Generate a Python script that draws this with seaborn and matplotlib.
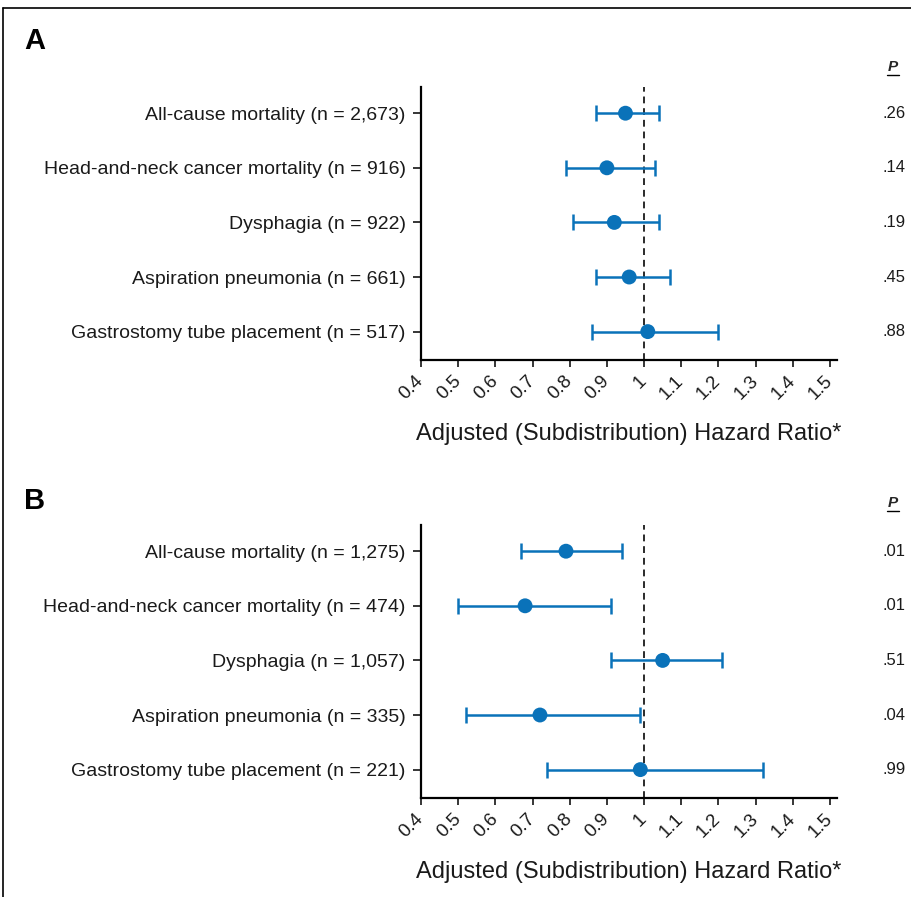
import numpy as np
import pandas as pd
import seaborn as sns
import matplotlib.pyplot as plt
import matplotlib.transforms as mtransforms
from matplotlib.lines import Line2D

sns.set_theme(style="white")
plt.rcParams['font.family'] = ['Liberation Sans', 'DejaVu Sans']

# outcomes, same order in both panels
outcomes = ["All-cause mortality", "Head-and-neck cancer mortality", "Dysphagia",
            "Aspiration pneumonia", "Gastrostomy tube placement"]

# panel A
n_a = ["2,673", "916", "922", "661", "517"]
hr_a = [0.95, 0.90, 0.92, 0.96, 1.01]
lo_a = [0.87, 0.79, 0.81, 0.87, 0.86]
hi_a = [1.04, 1.03, 1.04, 1.07, 1.20]
p_a = [".26", ".14", ".19", ".45", ".88"]

# panel B
n_b = ["1,275", "474", "1,057", "335", "221"]
hr_b = [0.79, 0.68, 1.05, 0.72, 0.99]
lo_b = [0.67, 0.50, 0.91, 0.52, 0.74]
hi_b = [0.94, 0.91, 1.21, 0.99, 1.32]
p_b = [".01", ".01", ".51", ".04", ".99"]

x_ticks = [0.4, 0.5, 0.6, 0.7, 0.8, 0.9, 1, 1.1, 1.2, 1.3, 1.4, 1.5]
x_tick_labels = ["0.4", "0.5", "0.6", "0.7", "0.8", "0.9", "1", "1.1", "1.2", "1.3", "1.4", "1.5"]
x_title = "Adjusted (Subdistribution) Hazard Ratio*"

blue = "#0a72b9"
W, H = 912, 897

fig = plt.figure(figsize=(W / 100, H / 100), dpi=100)


def panel(rect, letter, n, hr, lo, hi, pvals, letter_y, header_y):
    df = pd.DataFrame({
        "label": [f"{o} (n = {k})" for o, k in zip(outcomes, n)],
        "hr": hr, "lo": lo, "hi": hi, "pos": np.arange(len(hr)),
    })
    ax = fig.add_axes(rect)
    ax.axvline(1, color="#2a2a2a", lw=1.4, ls=(0, (3.5, 2.5)), zorder=1)
    ax.errorbar(df["hr"], df["pos"],
                xerr=[df["hr"] - df["lo"], df["hi"] - df["hr"]],
                fmt="none", ecolor=blue, elinewidth=1.8, capsize=5.5,
                capthick=1.8, zorder=2)
    sns.scatterplot(data=df, x="hr", y="pos", color=blue, s=115,
                    edgecolor="none", ax=ax, zorder=3, legend=False)
    ax.set_xlim(0.4, 1.519)
    ax.set_ylim(4.52, -0.48)
    ax.set_yticks(df["pos"])
    ax.set_yticklabels(df["label"], fontsize=14, color="#1a1a1a")
    ax.set_xticks(x_ticks)
    ax.set_xticklabels(x_tick_labels, rotation=45, ha="right", va="center",
                       rotation_mode="anchor",
                       family=["Liberation Sans Narrow", "Liberation Sans"],
                       fontsize=13.5, color="#1a1a1a")
    shift = mtransforms.ScaledTranslation(4 / 100, 0, fig.dpi_scale_trans)
    for t in ax.get_xticklabels():
        t.set_transform(t.get_transform() + shift)
    ax.set_xlabel(x_title, family=["Liberation Sans Narrow", "Liberation Sans"],
                  fontsize=17, color="#1a1a1a", labelpad=15)
    ax.set_ylabel("")
    for s in ["top", "right"]:
        ax.spines[s].set_visible(False)
    for s in ["left", "bottom"]:
        ax.spines[s].set_color("black")
        ax.spines[s].set_linewidth(1.6)
    ax.tick_params(axis="y", which="both", left=True, length=6, width=1.1,
                   color="black", pad=5)
    ax.tick_params(axis="x", which="both", bottom=True, length=5, width=1.1,
                   color="black", pad=8)
    ptrans = mtransforms.blended_transform_factory(fig.transFigure, ax.transData)
    for i, p in enumerate(pvals):
        ax.text(906 / W, i, p, transform=ptrans, ha="right", va="center",
                fontsize=12, color="#1a1a1a")
    fig.text(893 / W, 1 - header_y / H, "P", ha="center", va="center",
             fontsize=11, fontweight="bold", fontstyle="italic")
    fig.add_artist(Line2D([887 / W, 899 / W], [1 - (header_y + 8) / H] * 2,
                          transform=fig.transFigure, color="black", lw=1))
    fig.text(24 / W, 1 - letter_y / H, letter, ha="left", va="center",
             fontsize=21, fontweight="bold", color="black")
    return ax


panel([421 / W, 1 - 360 / H, 416 / W, 273 / H], "A", n_a, hr_a, lo_a, hi_a, p_a, 41, 67)
panel([421 / W, 1 - 798 / H, 416 / W, 273 / H], "B", n_b, hr_b, lo_b, hi_b, p_b, 501, 503)

# frame lines at top and left
fig.add_artist(Line2D([3 / W, 1], [1 - 8 / H, 1 - 8 / H], transform=fig.transFigure,
                      color="black", lw=1.2))
fig.add_artist(Line2D([3 / W, 3 / W], [0, 1 - 8 / H], transform=fig.transFigure,
                      color="black", lw=1.2))

fig.savefig("out.png", dpi=100)
